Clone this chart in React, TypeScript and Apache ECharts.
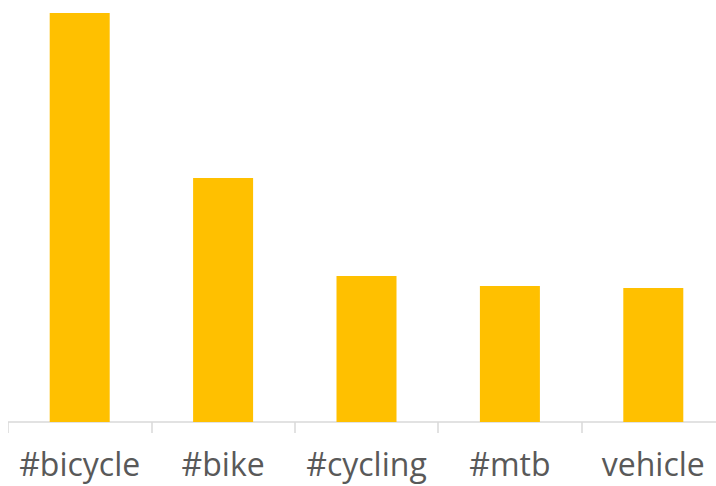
import React, { useEffect, useRef } from "react";
import * as echarts from "echarts";

const categories = ["#bicycle", "#bike", "#cycling", "#mtb", "vehicle"];
const values = [409, 244, 146, 136, 134];

export default function App() {
  const ref = useRef<HTMLDivElement>(null);
  useEffect(() => {
    const chart = echarts.init(ref.current!, null, { renderer: "svg" });
    chart.setOption({
      animation: false,
      grid: { left: 0, right: 0, top: 5, bottom: 64, containLabel: false },
      xAxis: {
        type: "category",
        data: categories,
        axisLine: { show: true, lineStyle: { color: "#d9d9d9", width: 1.5 } },
        axisTick: { show: true, length: 11, lineStyle: { color: "#d9d9d9", width: 1.5 } },
        axisLabel: {
          color: "#595959",
          fontSize: 32,
          fontFamily: "Open Sans",
          margin: 25,
          interval: 0,
        },
      },
      yAxis: {
        type: "value",
        min: 0,
        max: 409,
        show: false,
        splitLine: { show: false },
      },
      series: [
        {
          type: "bar",
          data: values,
          barWidth: 60,
          itemStyle: { color: "#FFC000" },
        },
      ],
    });
    return () => chart.dispose();
  }, []);
  return (
    <div style={{ position: "absolute", left: 8, top: 8, width: 708, height: 478, overflow: "hidden" }}>
      <div ref={ref} style={{ width: 717, height: 478 }} />
    </div>
  );
}
